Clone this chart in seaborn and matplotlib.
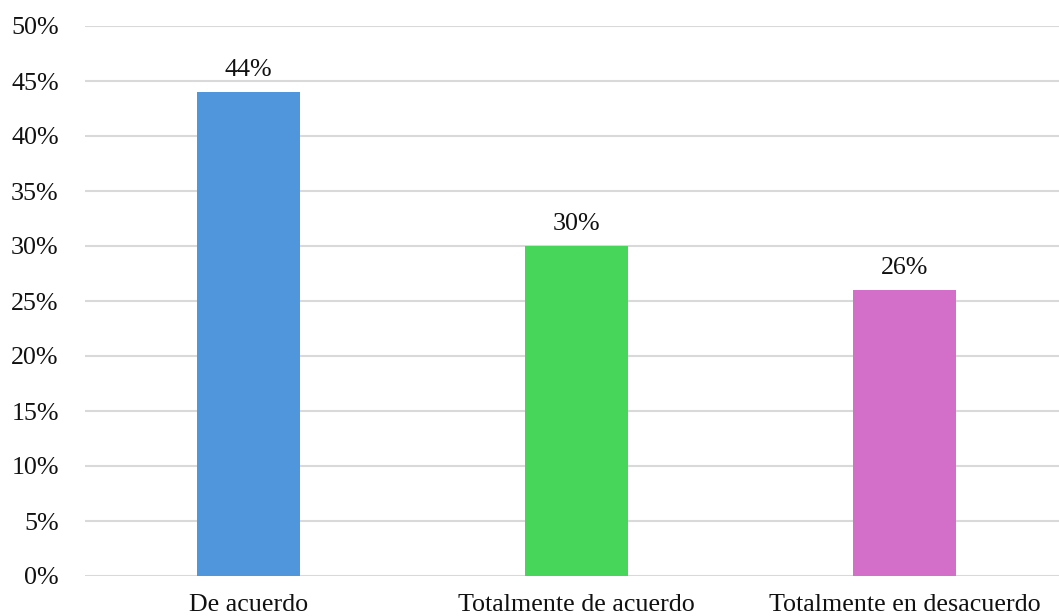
import pandas as pd
import seaborn as sns
import matplotlib.pyplot as plt
from matplotlib.ticker import FuncFormatter

categories = ['De acuerdo', 'Totalmente de acuerdo', 'Totalmente en desacuerdo']
values = [44, 30, 26]
colors = ['#5096DC', '#48D65A', '#D46FC9']

sns.set_style('white')
plt.rcParams['font.family'] = ['Liberation Serif', 'DejaVu Serif']

df = pd.DataFrame({'cat': categories, 'val': values})

fig = plt.figure(figsize=(10.59, 6.16), dpi=100)
ax = fig.add_axes([84.5 / 1059, 40 / 616, 984 / 1059, 550 / 616])

sns.barplot(data=df, x='cat', y='val', hue='cat', palette=colors,
            width=0.314, legend=False, ax=ax, saturation=1, linewidth=0)

ax.set_ylim(0, 50)
ax.set_xlim(-0.5, 2.5)
ax.set_yticks(range(0, 51, 5))
ax.yaxis.set_major_formatter(FuncFormatter(lambda v, p: f'{int(v)}%'))
ax.grid(axis='y', color='#d9d9d9', linewidth=1.5)
ax.set_axisbelow(True)
for s in ax.spines.values():
    s.set_visible(False)
ax.tick_params(axis='both', length=0, labelsize=18.7, colors='#111111')
ax.tick_params(axis='y', pad=18.5)
ax.tick_params(axis='x', pad=13)
ax.set_xlabel('')
ax.set_ylabel('')

for i, v in enumerate(values):
    ax.text(i, v + 1.0, f'{v}%', ha='center', va='bottom', fontsize=18.7, color='#111111')

fig.savefig('out.png', dpi=100)
